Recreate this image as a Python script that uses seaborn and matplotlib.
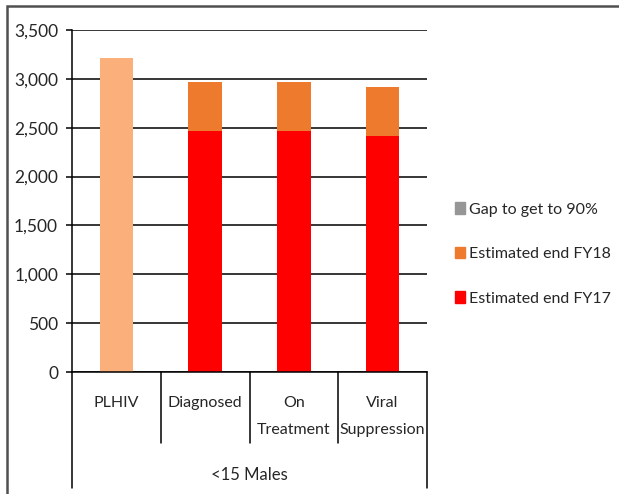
import matplotlib
matplotlib.use("Agg")
import matplotlib.pyplot as plt
import matplotlib.patches as mpatches
import matplotlib.transforms as mtransforms
import pandas as pd
import seaborn as sns

# values (<15 Males cascade)
categories = ["PLHIV", "Diagnosed", "On\nTreatment", "Viral\nSuppression"]
est_fy17 = [0, 2470, 2470, 2415]
est_fy18 = [0, 500, 500, 505]
gap_90 = [0, 0, 0, 0]
plhiv = [3215, 0, 0, 0]
group_label = "<15 Males"
y_ticks = [0, 500, 1000, 1500, 2000, 2500, 3000, 3500]

c_plhiv = "#FBB07C"
c_fy18 = "#EE7A2E"
c_fy17 = "#FF0000"
c_gap = "#969696"

df = pd.DataFrame({"category": categories, "fy17": est_fy17,
                   "fy18": est_fy18, "gap": gap_90, "plhiv": plhiv})
df["top"] = df["fy17"] + df["fy18"] + df["gap"] + df["plhiv"]
df["mid"] = df["fy17"] + df["fy18"]

sns.set_style("white")
plt.rcParams["font.family"] = ["Lato", "DejaVu Sans"]

fig = plt.figure(figsize=(6.19, 4.94), dpi=100)
ax = fig.add_axes([72 / 619, 122 / 494, 355 / 619, 342 / 494])

top_colors = [c_plhiv] + [c_gap] * 3
mid_colors = [c_plhiv] + [c_fy18] * 3
bar_kw = dict(width=0.38, legend=False, ax=ax, saturation=1, linewidth=0)
sns.barplot(data=df, x="category", y="top", hue="category", palette=top_colors, **bar_kw)
sns.barplot(data=df, x="category", y="mid", hue="category", palette=mid_colors, **bar_kw)
sns.barplot(data=df, x="category", y="fy17", hue="category", palette=[c_fy17] * 4, **bar_kw)

ax.set_xlim(-0.5, 3.5)
ax.set_ylim(0, 3500)
ax.set_yticks(y_ticks)
ax.set_yticklabels([f"{v:,}" for v in y_ticks], fontsize=12.5)
ax.yaxis.grid(True, color="black", linewidth=1.1)
ax.set_axisbelow(True)
ax.tick_params(axis="y", length=4, width=1.1, color="black", left=True, pad=6)
ax.tick_params(axis="x", length=0, pad=17)
for lab in ax.get_xticklabels():
    lab.set_fontsize(11.5)
    lab.set_linespacing(2.2)
ax.set_xlabel("")
ax.set_ylabel("")
for s in ["top", "right"]:
    ax.spines[s].set_visible(False)
for s in ["left", "bottom"]:
    ax.spines[s].set_color("black")
    ax.spines[s].set_linewidth(1.1)

# category separators below the axis, Excel multi-level style
trans = mtransforms.blended_transform_factory(ax.transData, ax.transAxes)
for i, xb in enumerate([-0.5, 0.5, 1.5, 2.5, 3.5]):
    y_end = -0.34 if i in (0, 4) else -0.208
    ax.plot([xb, xb], [0, y_end], color="black", linewidth=1.1,
            transform=trans, clip_on=False)
ax.text(0.5, -0.302, group_label, transform=ax.transAxes, ha="center",
        va="center", fontsize=12)

handles = [mpatches.Patch(color=c_gap, label="Gap to get to 90%"),
           mpatches.Patch(color=c_fy18, label="Estimated end FY18"),
           mpatches.Patch(color=c_fy17, label="Estimated end FY17")]
fig.legend(handles=handles, loc="center left", bbox_to_anchor=(455 / 619, 1 - 254 / 494),
           frameon=False, fontsize=11.5, handlelength=0.6, handleheight=0.7,
           handletextpad=0.25, labelspacing=1.9, borderpad=0, borderaxespad=0)

# outer frame of the picture
fig.patches.append(mpatches.Rectangle((7 / 619, -0.02), 1.0, 1 - 6 / 494 + 0.02,
                                      transform=fig.transFigure, fill=False,
                                      edgecolor="#505050", linewidth=1.8))

fig.savefig("out.png", dpi=100)
